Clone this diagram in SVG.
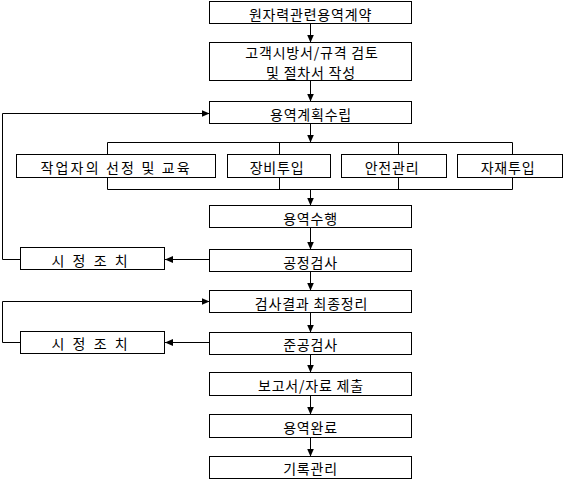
<svg xmlns="http://www.w3.org/2000/svg" width="580" height="483" viewBox="0 0 580 483">
<style>
.box{fill:#fff;stroke:#000;stroke-width:1}
.ln{fill:none;stroke:#000;stroke-width:1}
.t{font-family:"Noto Sans CJK KR","Noto Sans",sans-serif;font-size:14px;text-anchor:middle;dominant-baseline:central;fill:#000;letter-spacing:0.8px}
</style>
<defs>
<marker id="ah" markerUnits="userSpaceOnUse" markerWidth="9" markerHeight="8" refX="8" refY="3.5" orient="auto">
<path d="M0,0 L8,3.5 L0,7 z" fill="#000"/>
</marker>
</defs>
<rect width="580" height="483" fill="#fff"/>
<g id="connectors">
<line class="ln" x1="310.5" y1="23.5" x2="310.5" y2="42.5" marker-end="url(#ah)"/>
<line class="ln" x1="310.5" y1="80.5" x2="310.5" y2="101.5" marker-end="url(#ah)"/>
<path class="ln" d="M20.5,259.5 H2.5 V113.5 H209.5" marker-end="url(#ah)"/>
<line class="ln" x1="310.5" y1="123.5" x2="310.5" y2="142.5" marker-end="url(#ah)"/>
<line class="ln" x1="107.5" y1="142.5" x2="512.5" y2="142.5"/>
<line class="ln" x1="107.5" y1="189.5" x2="512.5" y2="189.5"/>
<line class="ln" x1="107.5" y1="142.5" x2="107.5" y2="189.5"/>
<line class="ln" x1="279.5" y1="142.5" x2="279.5" y2="189.5"/>
<line class="ln" x1="398.5" y1="142.5" x2="398.5" y2="189.5"/>
<line class="ln" x1="512.5" y1="142.5" x2="512.5" y2="189.5"/>
<line class="ln" x1="310.5" y1="189.5" x2="310.5" y2="205.5" marker-end="url(#ah)"/>
<line class="ln" x1="310.5" y1="227.5" x2="310.5" y2="249.5" marker-end="url(#ah)"/>
<line class="ln" x1="209.5" y1="259.5" x2="165" y2="259.5" marker-end="url(#ah)"/>
<line class="ln" x1="310.5" y1="271.5" x2="310.5" y2="290.5" marker-end="url(#ah)"/>
<path class="ln" d="M20.5,342.5 H2.5 V301.5 H209.5" marker-end="url(#ah)"/>
<line class="ln" x1="310.5" y1="312.5" x2="310.5" y2="332.5" marker-end="url(#ah)"/>
<line class="ln" x1="209.5" y1="342.5" x2="165" y2="342.5" marker-end="url(#ah)"/>
<line class="ln" x1="310.5" y1="354.5" x2="310.5" y2="372.5" marker-end="url(#ah)"/>
<line class="ln" x1="310.5" y1="395.5" x2="310.5" y2="414.5" marker-end="url(#ah)"/>
<line class="ln" x1="310.5" y1="437.5" x2="310.5" y2="456.5" marker-end="url(#ah)"/>
</g>
<g id="n1"><rect class="box" x="209.5" y="1.5" width="202" height="22"/><text class="t" x="310.5" y="13.5">원자력관련용역계약</text></g>
<g id="n2"><rect class="box" x="209.5" y="42.5" width="202" height="38"/><text class="t" x="312" y="51.5">고객시방서/규격 검토</text><text class="t" x="311" y="72">및 절차서 작성</text></g>
<g id="n3"><rect class="box" x="209.5" y="101.5" width="202" height="22"/><text class="t" x="311" y="113.5">용역계획수립</text></g>
<g id="n4"><rect class="box" x="16.5" y="154.5" width="199" height="23"/><text class="t" x="115.5" y="166.5" textLength="150" lengthAdjust="spacing">작업자의 선정 및 교육</text></g>
<g id="n5"><rect class="box" x="227.5" y="154.5" width="103" height="23"/><text class="t" x="277" y="166.5">장비투입</text></g>
<g id="n6"><rect class="box" x="341.5" y="154.5" width="105" height="23"/><text class="t" x="392" y="166.5">안전관리</text></g>
<g id="n7"><rect class="box" x="457.5" y="154.5" width="105" height="23"/><text class="t" x="508" y="166.5">자재투입</text></g>
<g id="n8"><rect class="box" x="209.5" y="205.5" width="202" height="22"/><text class="t" x="310.5" y="217.5">용역수행</text></g>
<g id="n9"><rect class="box" x="209.5" y="249.5" width="202" height="22"/><text class="t" x="310.5" y="261.5">공정검사</text></g>
<g id="n10"><rect class="box" x="20.5" y="247.5" width="144" height="22"/><text class="t" x="90" y="259.5" textLength="77" lengthAdjust="spacing">시 정 조 치</text></g>
<g id="n11"><rect class="box" x="209.5" y="290.5" width="202" height="22"/><text class="t" x="311.5" y="302.5">검사결과 최종정리</text></g>
<g id="n12"><rect class="box" x="209.5" y="332.5" width="202" height="22"/><text class="t" x="310.5" y="344">준공검사</text></g>
<g id="n13"><rect class="box" x="20.5" y="331.5" width="144" height="22"/><text class="t" x="90" y="343" textLength="77" lengthAdjust="spacing">시 정 조 치</text></g>
<g id="n14"><rect class="box" x="209.5" y="372.5" width="202" height="23"/><text class="t" x="311" y="384.5">보고서/자료 제출</text></g>
<g id="n15"><rect class="box" x="209.5" y="414.5" width="202" height="23"/><text class="t" x="310.5" y="426.5">용역완료</text></g>
<g id="n16"><rect class="box" x="209.5" y="456.5" width="202" height="22"/><text class="t" x="310.5" y="468">기록관리</text></g>
</svg>
